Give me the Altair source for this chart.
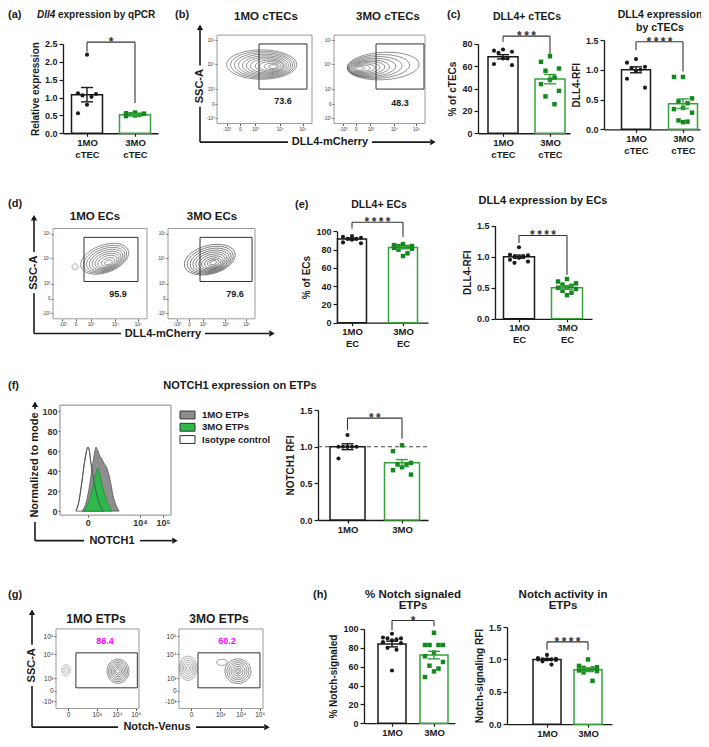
import altair as alt
import pandas as pd

OFF = 8
W, H = 693, 731
KY = 0.9816
FONT = "Liberation Sans"
INK = "#1a1a1a"
GREEN_BAR = "#35a23b"
GREEN_PT = "#13891d"

# ---------------- data ----------------
# (a) Dll4 expression by qPCR
a_1mo = [2.20, 1.12, 1.10, 1.06, 1.02, 0.80, 0.56]
a_3mo = [0.58, 0.56, 0.55, 0.53, 0.52, 0.50, 0.48]
a_mean = [1.08, 0.52]
a_sem = [0.20, 0.02]
# (c) DLL4+ cTECs
c1_1mo = [75, 74, 73, 72, 67, 67, 62, 61]
c1_3mo = [69, 64, 58, 56, 50, 48, 44, 38, 33, 26]
c1_mean = [68.5, 48.5]
c1_sem = [1.9, 4.2]
# (c) DLL4 expression by cTECs
c2_1mo = [1.18, 1.12, 1.05, 1.03, 1.00, 0.98, 0.85, 0.70]
c2_3mo = [0.88, 0.88, 0.52, 0.47, 0.44, 0.36, 0.34, 0.28, 0.15, 0.13, 0.12]
c2_mean = [1.00, 0.43]
c2_sem = [0.05, 0.08]
# (e) DLL4+ ECs
e1_1mo = [95, 94, 93, 92, 92, 91, 88, 87]
e1_3mo = [86, 85, 84, 84, 83, 83, 82, 81, 80, 76, 73]
e1_mean = [91.8, 82.3]
e1_sem = [1.0, 1.2]
# (e) DLL4 expression by ECs
e2_1mo = [1.15, 1.03, 1.02, 1.00, 1.00, 0.98, 0.95, 0.92, 0.90]
e2_3mo = [0.64, 0.60, 0.57, 0.55, 0.53, 0.51, 0.50, 0.48, 0.45, 0.42, 0.38]
e2_mean = [1.00, 0.50]
e2_sem = [0.025, 0.024]
# (f) NOTCH1 RFI
f_1mo = [1.16, 1.00, 1.00, 1.00, 1.00, 1.00, 0.84]
f_3mo = [1.02, 0.94, 0.78, 0.76, 0.75, 0.72, 0.68, 0.62]
f_mean = [1.00, 0.78]
f_sem = [0.04, 0.045]
# (h) % Notch signaled ETPs
h1_1mo = [95, 91, 90, 90, 89, 88, 86, 85, 80, 78, 56]
h1_3mo = [96, 83, 83, 83, 83, 75, 71, 65, 61, 58, 55, 49]
h1_mean = [84.0, 72.3]
h1_sem = [3.0, 4.0]
# (h) Notch activity in ETPs
h2_1mo = [1.07, 1.02, 1.01, 1.00, 1.00, 1.00, 1.00, 0.99, 0.97, 0.92]
h2_3mo = [1.00, 0.90, 0.88, 0.87, 0.86, 0.84, 0.83, 0.82, 0.80, 0.67]
h2_mean = [1.00, 0.84]
h2_sem = [0.012, 0.028]

# (f) histogram (x as fraction of the biexponential axis, y = % of mode)
iso_x = [0.144, 0.171, 0.198, 0.225, 0.252, 0.261, 0.279, 0.306, 0.333, 0.360, 0.396]
iso_y = [0, 10, 30, 52, 64, 62, 48, 30, 16, 6, 0]
m1_x = [0.198, 0.234, 0.261, 0.288, 0.315, 0.324, 0.342, 0.360, 0.378, 0.396, 0.423,
        0.441, 0.459, 0.477, 0.505, 0.532]
m1_y = [0, 8, 22, 42, 60, 64, 60, 55, 52, 48, 43, 36, 27, 16, 6, 0]
m3_x = [0.216, 0.243, 0.270, 0.297, 0.324, 0.342, 0.360, 0.378, 0.405, 0.432, 0.468]
m3_y = [0, 5, 13, 25, 38, 43, 35, 26, 16, 7, 0]

# flow gates: (x0, x1, y0, y1) as fractions of the plot, and gate %
b1_gate, b1_pct = (0.442, 0.947, 0.389, 0.90), "73.6"
b2_gate, b2_pct = (0.462, 0.989, 0.389, 0.90), "48.3"
d1_gate, d1_pct = (0.330, 0.904, 0.413, 0.902), "95.9"
d2_gate, d2_pct = (0.368, 0.966, 0.413, 0.902), "79.6"
g1_gate, g1_pct = (0.240, 0.980, 0.260, 0.700), "86.4"
g2_gate, g2_pct = (0.226, 0.964, 0.260, 0.700), "60.2"

# flow contour rings (centre fractions, ring widths in px)
b1_cx = [0.47, 0.48, 0.49, 0.50, 0.51, 0.52, 0.53, 0.55, 0.56, 0.575, 0.59]
b1_cy = [0.667, 0.665, 0.662, 0.660, 0.657, 0.655, 0.652, 0.650, 0.648, 0.646, 0.644]
b1_w = [70, 64, 58, 52, 46, 40, 34, 28, 22, 15, 9]
b2_cx = [0.54, 0.49, 0.45, 0.42, 0.39, 0.37, 0.35, 0.33, 0.31, 0.29]
b2_cy = [0.65, 0.645, 0.64, 0.635, 0.632, 0.63, 0.628, 0.626, 0.624, 0.622]
b2_w = [72, 62, 54, 47, 40, 34, 28, 22, 16, 9]
d1_cx = [0.55, 0.555, 0.56, 0.565, 0.57, 0.575, 0.58, 0.585, 0.59]
d1_cy = [0.665, 0.66, 0.655, 0.65, 0.645, 0.64, 0.635, 0.63, 0.625]
d1_w = [50, 45, 40, 35, 30, 25, 20, 14, 8]
d2_cx = [0.48, 0.485, 0.49, 0.495, 0.50, 0.505, 0.51, 0.515, 0.52, 0.52]
d2_cy = [0.655, 0.65, 0.645, 0.64, 0.635, 0.63, 0.625, 0.62, 0.62, 0.62]
d2_w = [52, 47, 42, 37, 32, 27, 22, 17, 12, 7]
g1_main_w = [22, 19, 16, 13, 10, 7, 4]
g1_small_w = [9, 6, 3]
g2_left_w = [18, 15, 12, 9, 6, 3]
g2_main_w = [26, 22, 18, 14, 10, 6, 3]
g2_loop_w = [11]

# flow axis ticks
bd_yt, bd_yl = [0.94, 0.67, 0.39, 0.22, 0.06], ["10\u2075", "10\u2074", "10\u00b3", "0", "-10\u00b3"]
bd_xt, bd_xl = [0.10, 0.24, 0.40, 0.66, 0.90], ["-10\u00b3", "0", "10\u00b3", "10\u2074", "10\u2075"]
g_yt, g_yl = [0.91, 0.68, 0.38, 0.22, 0.09], ["10\u2075", "10\u2074", "10\u00b3", "0", "-10\u00b3"]
g_xt, g_xl = [0.145, 0.49, 0.735, 0.96], ["0", "10\u00b3", "10\u2074", "10\u2075"]
hist_xt, hist_xl = [0.25, 0.72, 0.93], ["0", "10\u2074", "10\u2075"]


# ---------------- helpers ----------------
def TX(v):
    return v - OFF


def TY(v):
    return 6.5 + (v - 7) * KY


def SX(domain, r0, r1):
    return alt.Scale(domain=list(domain), range=[TX(r0), TX(r1)], nice=False, zero=False)


def SY(domain, r0, r1):
    return alt.Scale(domain=list(domain), range=[TY(r0), TY(r1)], nice=False, zero=False)


def PX():
    return SX([0, 709], 0, 709)


def PY():
    return SY([0, 747], 0, 747)


def label_expr(vals, labs):
    parts = [f"abs(datum.value - {v}) < 0.0005 ? '{l}'" for v, l in zip(vals, labs)]
    return " : ".join(parts) + " : ''"


def jitter(vals, step):
    order = sorted(range(len(vals)), key=lambda i: -vals[i])
    pat = [0, -2, 2, -1, 1]
    offs = [0.0] * len(vals)
    for rank, i in enumerate(order):
        offs[i] = pat[rank % 5] * step
    return offs


def bar_panel(pts1, pts2, means, sems, labels, ydom, yticks, yfmt, ytitle,
              axL, axR, c1, c2, bw, ybot, ytop, bracket, stars, dashed=None):
    u = float(c2 - c1)
    d0, d1 = (axL - c1) / u, (axR - c1) / u

    def xs():
        return SX([d0, d1], axL, axR)

    def ys():
        return SY(ydom, ybot, ytop)

    hw = bw / 2.0 / u
    if isinstance(labels[0], list):
        expr = f"datum.value < 0.5 ? ['{labels[0][0]}','{labels[0][1]}'] : ['{labels[1][0]}','{labels[1][1]}']"
    else:
        expr = f"datum.value < 0.5 ? '{labels[0]}' : '{labels[1]}'"
    xaxis = alt.Axis(orient="bottom", offset=TY(ybot) - H, values=[0, 1], labelExpr=expr,
                     title=None, tickSize=3, labelPadding=1, labelFontSize=9.5,
                     labelLineHeight=12, domainWidth=1.3, tickWidth=1.2, labelFlush=False,
                     labelOverlap=False, minExtent=0)
    yaxis = alt.Axis(orient="left", offset=-TX(axL), values=yticks, format=yfmt, title=ytitle,
                     tickSize=4, labelFontSize=9, titleFontSize=10, titlePadding=4,
                     domainWidth=1.3, tickWidth=1.2, minExtent=0, labelPadding=2)
    L = []
    if dashed is not None:
        ddf = pd.DataFrame({"x": [d0], "x2": [d1], "y": [dashed]})
        L.append(alt.Chart(ddf).mark_rule(strokeDash=[4, 3], color="#444", strokeWidth=1.2).encode(
            x=alt.X("x:Q", scale=xs(), axis=None), x2="x2:Q",
            y=alt.Y("y:Q", scale=ys(), axis=None)))
    bars = pd.DataFrame({"l": [-hw, 1 - hw], "r": [hw, 1 + hw], "b": [ydom[0]] * 2,
                         "m": means, "col": [INK, GREEN_BAR]})
    L.append(alt.Chart(bars).mark_rect(fill="white", strokeWidth=1.5).encode(
        x=alt.X("l:Q", scale=xs(), axis=xaxis), x2="r:Q",
        y=alt.Y("b:Q", scale=ys(), axis=yaxis), y2="m:Q",
        stroke=alt.Stroke("col:N", scale=None)))
    step = 4.5 / u
    p1 = pd.DataFrame({"x": jitter(pts1, step), "y": pts1})
    p2 = pd.DataFrame({"x": [1 + o for o in jitter(pts2, step)], "y": pts2})
    L.append(alt.Chart(p1).mark_point(shape="circle", filled=True, size=17, color=INK, opacity=1).encode(
        x=alt.X("x:Q", scale=xs(), axis=None), y=alt.Y("y:Q", scale=ys(), axis=None)))
    L.append(alt.Chart(p2).mark_point(shape="square", filled=True, size=20, color=GREEN_PT, opacity=1).encode(
        x=alt.X("x:Q", scale=xs(), axis=None), y=alt.Y("y:Q", scale=ys(), axis=None)))
    cap = 6.0 / u
    eb = pd.DataFrame({"x": [0, 1], "lo": [means[0] - sems[0], means[1] - sems[1]],
                       "hi": [means[0] + sems[0], means[1] + sems[1]], "col": [INK, GREEN_BAR]})
    L.append(alt.Chart(eb).mark_rule(strokeWidth=1.4).encode(
        x=alt.X("x:Q", scale=xs(), axis=None), y=alt.Y("lo:Q", scale=ys(), axis=None), y2="hi:Q",
        color=alt.Color("col:N", scale=None)))
    caps = pd.DataFrame({"xl": [-cap, -cap, 1 - cap, 1 - cap], "xr": [cap, cap, 1 + cap, 1 + cap],
                         "y": [eb.lo[0], eb.hi[0], eb.lo[1], eb.hi[1]],
                         "col": [INK, INK, GREEN_BAR, GREEN_BAR]})
    L.append(alt.Chart(caps).mark_rule(strokeWidth=1.4).encode(
        x=alt.X("xl:Q", scale=xs(), axis=None), x2="xr:Q", y=alt.Y("y:Q", scale=ys(), axis=None),
        color=alt.Color("col:N", scale=None)))
    top, legL, legR = bracket
    br = pd.DataFrame({"x": [0, 0, 1], "x2": [0, 1, 1], "y": [legL, top, legR], "y2": [top, top, top]})
    L.append(alt.Chart(br).mark_rule(color="#333", strokeWidth=1.1).encode(
        x=alt.X("x:Q", scale=xs(), axis=None), x2="x2:Q",
        y=alt.Y("y:Q", scale=ys(), axis=None), y2="y2:Q"))
    st = pd.DataFrame({"x": [0.5], "y": [top], "t": [stars]})
    L.append(alt.Chart(st).mark_text(baseline="alphabetic", dy=4, fontSize=12, font=FONT,
                                     fontWeight="bold", color="#333").encode(
        x=alt.X("x:Q", scale=xs(), axis=None), y=alt.Y("y:Q", scale=ys(), axis=None), text="t:N"))
    return L


def ellipse(k):
    return f"M-1,0A1,{k} 0 1,0 1,0A1,{k} 0 1,0 -1,0Z"


def rings(cx, cy, ws, k, ang, col):
    n = len(ws)
    cx = cx if isinstance(cx, list) else [cx] * n
    cy = cy if isinstance(cy, list) else [cy] * n
    return [{"cx": cx[i], "cy": cy[i], "s": ws[i] ** 2, "shp": ellipse(k), "ang": ang, "col": col}
            for i in range(n)]


def framed_panel(box, xt, xl, yt, yl, tick_fs, ydom=(0, 1), bold=False, frame_col="#9a9a9a"):
    x0, x1, y0, y1 = box

    def xs():
        return SX([0, 1], x0, x1)

    def ys():
        return SY(ydom, y1, y0)

    xaxis = alt.Axis(orient="bottom", offset=TY(y1) - H, values=xt, labelExpr=label_expr(xt, xl),
                     title=None, domain=False, tickSize=2, tickColor="#555", labelFontSize=tick_fs,
                     labelFontWeight="bold" if bold else "normal", labelColor="#333",
                     labelPadding=1, labelFlush=False, labelOverlap=False, minExtent=0)
    yaxis = alt.Axis(orient="left", offset=-TX(x0), values=yt, labelExpr=label_expr(yt, yl),
                     title=None, domain=False, tickSize=2, tickColor="#555", labelFontSize=tick_fs,
                     labelFontWeight="bold" if bold else "normal", labelColor="#333",
                     labelPadding=1, labelOverlap=False, minExtent=0)
    frame = pd.DataFrame({"a": [0], "b": [1], "c": [ydom[0]], "d": [ydom[1]]})
    ch = alt.Chart(frame).mark_rect(fill="transparent", stroke=frame_col, strokeWidth=1).encode(
        x=alt.X("a:Q", scale=xs(), axis=xaxis), x2="b:Q",
        y=alt.Y("c:Q", scale=ys(), axis=yaxis), y2="d:Q")
    return ch, xs, ys


def flow_panel(box, ring_rows, gate, xt, xl, yt, yl, tick_fs):
    frame, xs, ys = framed_panel(box, xt, xl, yt, yl, tick_fs)
    L = [frame]
    rdf = pd.DataFrame(ring_rows)
    L.append(alt.Chart(rdf).mark_point(filled=False, strokeWidth=0.6, opacity=1).encode(
        x=alt.X("cx:Q", scale=xs(), axis=None), y=alt.Y("cy:Q", scale=ys(), axis=None),
        size=alt.Size("s:Q", scale=None), shape=alt.Shape("shp:N", scale=None),
        angle=alt.Angle("ang:Q", scale=None), color=alt.Color("col:N", scale=None)))
    g = pd.DataFrame({"a": [gate[0]], "b": [gate[1]], "c": [gate[2]], "d": [gate[3]]})
    L.append(alt.Chart(g).mark_rect(fill="transparent", stroke="#333", strokeWidth=1).encode(
        x=alt.X("a:Q", scale=xs(), axis=None), x2="b:Q",
        y=alt.Y("c:Q", scale=ys(), axis=None), y2="d:Q"))
    return L, xs, ys


def pct_text(xs, ys, x, y, t, col, fs):
    df = pd.DataFrame({"x": [x], "y": [y], "t": [t]})
    return alt.Chart(df).mark_text(font=FONT, fontWeight="bold", fontSize=fs, color=col,
                                   baseline="middle").encode(
        x=alt.X("x:Q", scale=xs(), axis=None), y=alt.Y("y:Q", scale=ys(), axis=None), text="t:N")


def page_text(rows, align="center", color=INK, italic=False, angle=None):
    df = pd.DataFrame(rows, columns=["t", "x", "y", "fs"])
    mk = dict(align=align, baseline="middle", font=FONT, fontWeight="bold", color=color)
    if italic:
        mk["fontStyle"] = "italic"
    if angle is not None:
        mk["angle"] = angle
    return alt.Chart(df).mark_text(**mk).encode(
        x=alt.X("x:Q", scale=PX(), axis=None), y=alt.Y("y:Q", scale=PY(), axis=None),
        text="t:N", size=alt.Size("fs:Q", scale=None))


layers = []

# ---------------- bar panels ----------------
cT = [["1MO", "cTEC"], ["3MO", "cTEC"]]
ecl = [["1MO", "EC"], ["3MO", "EC"]]
mo = ["1MO", "3MO"]
t15 = [0, 0.5, 1.0, 1.5]
S3 = "*\u2009*\u2009*"
S4 = "*\u2009*\u2009*\u2009*"
layers += bar_panel(a_1mo, a_3mo, a_mean, a_sem, cT, [0, 2.5], [0, 0.5, 1.0, 1.5, 2.0, 2.5], ".1f",
                    "Relative expression", 63, 158, 87, 135, 31, 128, 37, (2.55, 2.28, 0.85), "*")
layers += bar_panel(c1_1mo, c1_3mo, c1_mean, c1_sem, cT, [0, 80], [0, 20, 40, 60, 80], "d",
                    "% of cTECs", 478, 570, 503, 550, 30, 128, 37, (87, 82, 71), S3)
layers += bar_panel(c2_1mo, c2_3mo, c2_mean, c2_sem, cT, [0, 1.5], t15, ".1f",
                    "DLL4-RFI", 604, 700, 636, 683, 29, 124, 33, (1.47, 1.33, 0.97), S4)
layers += bar_panel(e1_1mo, e1_3mo, e1_mean, e1_sem, ecl, [0, 100], [0, 20, 40, 60, 80, 100], "d",
                    "% of ECs", 337, 428, 352, 403, 29, 321, 228, (110, 103, 94), S4)
layers += bar_panel(e2_1mo, e2_3mo, e2_mean, e2_sem, ecl, [0, 1.5], t15, ".1f",
                    "DLL4-RFI", 495, 592, 519, 567, 31, 317, 222, (1.34, 1.22, 0.71), S4)
layers += bar_panel(f_1mo, f_3mo, f_mean, f_sem, mo, [0, 1.5], t15, ".1f",
                    "NOTCH1 RFI", 318, 428, 347.5, 402, 35, 522, 410, (1.39, 1.23, 1.11), "*\u2009*",
                    dashed=1.0)
layers += bar_panel(h1_1mo, h1_3mo, h1_mean, h1_sem, mo, [0, 100], [0, 20, 40, 60, 80, 100], "d",
                    "% Notch-signaled", 364, 455, 392, 434, 28, 729, 633, (109, 99, 103), "*")
layers += bar_panel(h2_1mo, h2_3mo, h2_mean, h2_sem, mo, [0, 1.5], t15, ".1f",
                    "Notch-signaling RFI", 507, 612, 547, 588, 28, 730, 631, (1.27, 1.15, 1.14), S4)

# ---------------- flow panels ----------------
flows = [
    ((217, 312, 28, 118), rings(b1_cx, b1_cy, b1_w, 0.42, 0, "#4a4a4a"), b1_gate, b1_pct, (0.695, 0.256), INK, bd_xt, bd_xl, bd_yt, bd_yl, 4.5),
    ((334, 425, 28, 118), rings(b2_cx, b2_cy, b2_w, 0.38, 357, "#4a4a4a"), b2_gate, b2_pct, (0.725, 0.233), INK, bd_xt, bd_xl, bd_yt, bd_yl, 4.5),
    ((53, 147, 225, 317), rings(d1_cx, d1_cy, d1_w, 0.55, 340, "#555") + rings(0.234, 0.576, [6], 1, 0, "#777"),
     d1_gate, d1_pct, (0.691, 0.272), INK, bd_xt, bd_xl, bd_yt, bd_yl, 4.5),
    ((168, 255, 225, 317), rings(d2_cx, d2_cy, d2_w, 0.55, 345, "#3a3a3a"),
     d2_gate, d2_pct, (0.77, 0.272), INK, bd_xt, bd_xl, bd_yt, bd_yl, 4.5),
    ((56, 139, 633, 714), rings(0.747, 0.469, g1_main_w, 1.1, 0, "#444") + rings(0.12, 0.48, g1_small_w, 1.3, 0, "#999"),
     g1_gate, g1_pct, (0.59, 0.85), "#ff00ff", g_xt, g_xl, g_yt, g_yl, 6.5),
    ((179, 263, 633, 714), rings(0.107, 0.506, g2_left_w, 1.35, 0, "#777") + rings(0.702, 0.469, g2_main_w, 0.95, 0, "#444")
     + rings(0.512, 0.58, g2_loop_w, 0.55, 0, "#666"),
     g2_gate, g2_pct, (0.571, 0.85), "#ff00ff", g_xt, g_xl, g_yt, g_yl, 6.5),
]
for box, rr, gate, pct, ppos, pcol, xt, xl, yt, yl, fs in flows:
    L, xs, ys = flow_panel(box, rr, gate, xt, xl, yt, yl, fs)
    layers += L
    layers.append(pct_text(xs, ys, ppos[0], ppos[1], pct, pcol, 9))

# ---------------- histogram (f) ----------------
hframe, hxs, hys = framed_panel((60, 171, 405, 517), hist_xt, hist_xl, [0, 20, 40, 60, 80, 100],
                                ["0", "20", "40", "60", "80", "100"], 9, ydom=(-4, 106), bold=True,
                                frame_col="#888")
layers.append(hframe)


def hist_area(xv, yv, fill, stroke):
    df = pd.DataFrame({"x": xv, "y": yv, "b": [0] * len(xv)})
    return alt.Chart(df).mark_area(fill=fill, stroke=stroke, strokeWidth=0.8, interpolate="monotone",
                                   opacity=1).encode(
        x=alt.X("x:Q", scale=hxs(), axis=None), y=alt.Y("y:Q", scale=hys(), axis=None), y2="b:Q")


layers.append(hist_area(iso_x, iso_y, "white", "#555"))
layers.append(hist_area(m1_x, m1_y, "#8e8e8e", "#555"))
layers.append(hist_area(m3_x, m3_y, "#2fb84c", "#1d8f35"))
iso_df = pd.DataFrame({"x": iso_x, "y": iso_y})
layers.append(alt.Chart(iso_df).mark_line(color="#444", strokeWidth=0.8, interpolate="monotone").encode(
    x=alt.X("x:Q", scale=hxs(), axis=None), y=alt.Y("y:Q", scale=hys(), axis=None)))

# legend swatches for (f)
leg_names = ["1MO ETPs", "3MO ETPs", "Isotype control"]
leg_fill = ["#8e8e8e", "#2fb84c", "white"]
leg = pd.DataFrame({"x": [180] * 3, "x2": [195] * 3, "y": [411, 423.5, 436], "y2": [419, 431.5, 444],
                    "f": leg_fill})
layers.append(alt.Chart(leg).mark_rect(stroke="#333", strokeWidth=1).encode(
    x=alt.X("x:Q", scale=PX(), axis=None), x2="x2:Q", y=alt.Y("y:Q", scale=PY(), axis=None), y2="y2:Q",
    fill=alt.Fill("f:N", scale=None)))
layers.append(page_text([(n, 202, y, 9.5) for n, y in zip(leg_names, [415, 427.5, 440])], align="left"))

# ---------------- axis arrows ----------------
segs = [
    (200, 137, 200, 101), (200, 59, 200, 22), (200, 137, 288, 137), (372, 137, 430, 137),
    (34, 332, 34, 291), (34, 249, 34, 216), (34, 332, 121, 332), (205, 332, 269, 332),
    (35, 543, 35, 524), (35, 409, 35, 406), (35, 543, 84, 543), (140, 543, 172, 543),
    (32, 733, 32, 691), (32, 649, 32, 618), (32, 733, 118, 733), (196, 733, 264, 733),
]
sdf = pd.DataFrame(segs, columns=["x", "y", "x2", "y2"])
layers.append(alt.Chart(sdf).mark_rule(color=INK, strokeWidth=1.6).encode(
    x=alt.X("x:Q", scale=PX(), axis=None), x2="x2:Q", y=alt.Y("y:Q", scale=PY(), axis=None), y2="y2:Q"))
heads = pd.DataFrame([(200, 20, "triangle-up"), (433, 137, "triangle-right"),
                      (34, 214, "triangle-up"), (272, 332, "triangle-right"),
                      (35, 404, "triangle-up"), (175, 543, "triangle-right"),
                      (32, 616, "triangle-up"), (267, 733, "triangle-right")],
                     columns=["x", "y", "s"])
layers.append(alt.Chart(heads).mark_point(filled=True, color=INK, size=40, opacity=1).encode(
    x=alt.X("x:Q", scale=PX(), axis=None), y=alt.Y("y:Q", scale=PY(), axis=None),
    shape=alt.Shape("s:N", scale=None)))

# ---------------- texts ----------------
layers.append(page_text([
    ("1MO cTECs", 266, 10, 11.5), ("3MO cTECs", 388, 10, 11.5),
    ("DLL4+ cTECs", 527, 10, 10.5), ("DLL4 expression", 660, 7, 10.5), ("by cTECs", 660, 21, 10.5),
    ("1MO ECs", 95, 213, 11.5), ("3MO ECs", 212, 213, 11.5),
    ("DLL4+ ECs", 379, 201, 10.5), ("DLL4 expression by ECs", 543, 197, 11),
    ("NOTCH1 expression on ETPs", 240, 385, 11),
    ("1MO ETPs", 96, 623, 12), ("3MO ETPs", 219, 623, 12),
    ("% Notch signaled", 413, 598, 11.5), ("ETPs", 413, 610, 11.5),
    ("Notch activity in", 563, 598, 11.5), ("ETPs", 563, 610, 11.5),
    ("DLL4-mCherry", 330, 137, 11), ("DLL4-mCherry", 163, 332, 11),
    ("NOTCH1", 112, 543, 11), ("Notch-Venus", 157, 733, 11),
]))
layers.append(page_text([
    ("(a)", 8, 7, 11), ("(b)", 175, 7, 11), ("(c)", 447, 7, 11), ("(d)", 8, 200, 11),
    ("(e)", 295, 201, 11), ("(f)", 8, 385, 11), ("(g)", 8, 598, 11), ("(h)", 313, 598, 11),
    ("expression by qPCR", 58, 8, 10),
], align="left"))
layers.append(page_text([("Dll4", 37, 8, 10)], align="left", italic=True))
layers.append(page_text([
    ("SSC-A", 200, 80, 11), ("SSC-A", 34, 270, 11), ("SSC-A", 32, 670, 11),
    ("Normalized to mode", 35, 466, 11),
], angle=270))

chart = alt.layer(*layers).resolve_scale(x="independent", y="independent").properties(
    width=W, height=H, autosize=alt.AutoSizeParams(type="none"), padding=0
).configure_view(stroke=None).configure_axis(
    labelFont=FONT, titleFont=FONT, labelFontWeight="bold", titleFontWeight="bold", grid=False,
    domainColor=INK, tickColor=INK, labelColor=INK, titleColor=INK
)

chart.save("out.html", embed_options={"renderer": "svg", "actions": False})
